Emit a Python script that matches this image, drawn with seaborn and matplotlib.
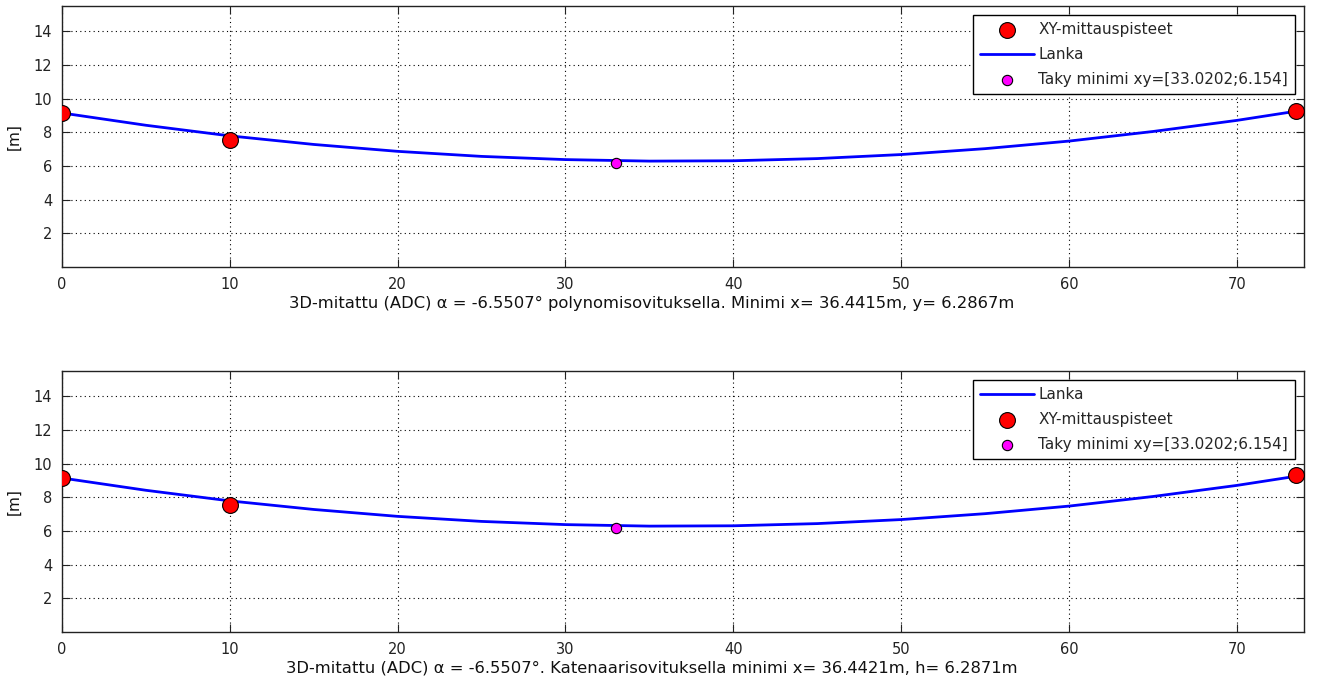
import numpy as np
import pandas as pd
import matplotlib
matplotlib.use("Agg")
import matplotlib.pyplot as plt
import seaborn as sns

# measured points (XY-mittauspisteet)
meas_x_top = [0.0, 10.0, 73.5]
meas_y_top = [9.15, 7.56, 9.25]
meas_x_bot = [0.0, 10.0, 73.5]
meas_y_bot = [9.15, 7.56, 9.30]

# fitted wire (Lanka)
lanka_x = [0, 5, 10, 15, 20, 25, 30, 35, 40, 45, 50, 55, 60, 65, 70, 73.5]
lanka_y = [9.15, 8.42, 7.79, 7.28, 6.87, 6.57, 6.38, 6.29, 6.31, 6.44,
           6.68, 7.03, 7.48, 8.05, 8.71, 9.25]

# Taky minimum
taky_x = [33.0202]
taky_y = [6.154]

xticks = [0, 10, 20, 30, 40, 50, 60, 70]
yticks = [2, 4, 6, 8, 10, 12, 14]

taky_label = "Taky minimi xy=[33.0202;6.154]"
xlabel_top = "3D-mitattu (ADC) \u03b1 = -6.5507\u00b0 polynomisovituksella. Minimi x= 36.4415m, y= 6.2867m"
xlabel_bot = "3D-mitattu (ADC) \u03b1 = -6.5507\u00b0. Katenaarisovituksella minimi x= 36.4421m, h= 6.2871m"

sns.set_style("ticks")
plt.rcParams['font.family'] = ['DejaVu Sans']
plt.rcParams['font.size'] = 10

fig = plt.figure(figsize=(13.18, 6.81), dpi=100)
ax1 = fig.add_axes([0.047, 0.608, 0.9424, 0.383])
ax2 = fig.add_axes([0.047, 0.072, 0.9424, 0.383])

df_line = pd.DataFrame({"x": lanka_x, "y": lanka_y})


def draw(ax, mx, my, xlabel, order):
    sns.scatterplot(x=mx, y=my, ax=ax, color="red", edgecolor="black",
                    s=130, linewidth=0.8, zorder=4, label="XY-mittauspisteet")
    sns.lineplot(data=df_line, x="x", y="y", ax=ax, color="blue", lw=2.0,
                 sort=True, zorder=3, label="Lanka")
    sns.scatterplot(x=taky_x, y=taky_y, ax=ax, color="magenta", edgecolor="black",
                    s=55, linewidth=0.8, zorder=5, label=taky_label)
    ax.set_xlim(0, 74)
    ax.set_ylim(0, 15.5)
    ax.set_xticks(xticks)
    ax.set_yticks(yticks)
    ax.grid(True, color="black", linestyle=(0, (1, 3)), linewidth=0.8)
    ax.tick_params(direction="in", top=True, right=True, length=6,
                   labelsize=10.5, colors="#222222", pad=7)
    for sp in ax.spines.values():
        sp.set_visible(True)
        sp.set_color("#222222")
        sp.set_linewidth(1.0)
    ax.set_xlabel(xlabel, fontsize=11.8, labelpad=3, color="#111111", x=0.475)
    ax.set_ylabel("[m]", fontsize=11, labelpad=9, color="#111111")
    handles, labels = ax.get_legend_handles_labels()
    hmap = dict(zip(labels, handles))
    ax.legend([hmap[k] for k in order], order, loc="upper right",
              fancybox=False, edgecolor="black", framealpha=1,
              fontsize=11, borderaxespad=0.6, handlelength=3.5,
              handletextpad=0.3, labelspacing=0.65, borderpad=0.45)


draw(ax1, meas_x_top, meas_y_top, xlabel_top,
     ["XY-mittauspisteet", "Lanka", taky_label])
draw(ax2, meas_x_bot, meas_y_bot, xlabel_bot,
     ["Lanka", "XY-mittauspisteet", taky_label])

plt.savefig("out.png", dpi=100)
